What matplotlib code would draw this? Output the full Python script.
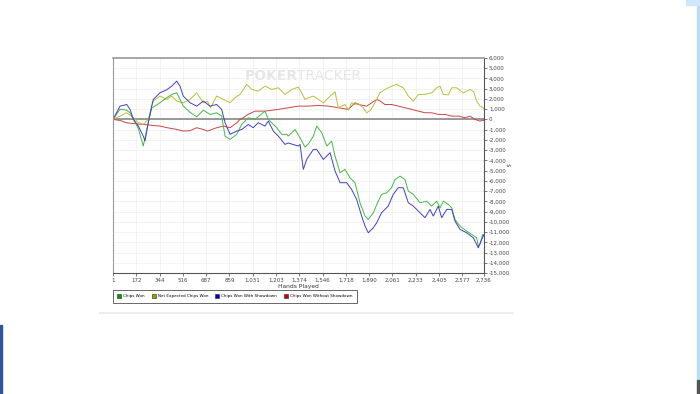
import numpy as np
import matplotlib
matplotlib.use('Agg')
from matplotlib import pyplot as plt
from matplotlib.patches import Patch, Rectangle
from matplotlib.lines import Line2D
from matplotlib.ticker import FuncFormatter

# Chips Won
won_x = [1, 53, 102, 126, 151, 188, 224, 237, 261, 286, 347, 397, 434, 471, 495, 519,
         569, 618, 667, 716, 765, 802, 827, 864, 913, 950, 998, 1048, 1121, 1146, 1208,
         1245, 1282, 1293, 1343, 1380, 1416, 1441, 1478, 1503, 1540, 1577, 1613, 1638,
         1675, 1711, 1748, 1785, 1822, 1859, 1883, 1920, 1957, 1981, 2018, 2055, 2080,
         2117, 2153, 2178, 2215, 2264, 2313, 2350, 2387, 2412, 2436, 2473, 2498, 2522,
         2559, 2608, 2645, 2682, 2694, 2706, 2726, 2736]
won_y = [0, 1000, 900, 650, 100, -900, -2600, -1800, -300, 1100, 1630, 2120, 2440, 2600,
         1950, 1300, 700, 250, 900, 490, 650, 320, -1630, -1950, -1460, -490, 160, 0, 810,
         0, -810, -1460, -1460, -1630, -980, -1790, -2700, -2400, -1630, -650, -1300,
         -2600, -2120, -3580, -5210, -4880, -5700, -6180, -8140, -9440, -9770, -9110,
         -7980, -7320, -7160, -6670, -5860, -5540, -5860, -7000, -7320, -8140, -7980,
         -8470, -7980, -8630, -7980, -8300, -8630, -9770, -10420, -10910, -11230, -11560,
         -12370, -12210, -11230, -11400]

# Net Expected Chips Won
ev_x = [1, 53, 102, 151, 188, 224, 261, 298, 347, 397, 434, 471, 519, 569, 618, 642, 667,
        697, 720, 765, 815, 864, 900, 937, 987, 1024, 1072, 1121, 1171, 1220, 1269, 1318,
        1367, 1392, 1416, 1441, 1478, 1515, 1552, 1601, 1638, 1662, 1711, 1736, 1760,
        1785, 1809, 1846, 1871, 1900, 1932, 1969, 2006, 2055, 2092, 2141, 2178, 2215,
        2252, 2301, 2350, 2387, 2412, 2436, 2473, 2498, 2534, 2584, 2633, 2660, 2682,
        2706, 2731, 2736]
ev_y = [0, 320, 650, 160, -300, -490, 0, 1790, 2280, 1950, 2280, 1790, 1630, 1950, 2600,
        2120, 1630, 1790, 1140, 2280, 1950, 1630, 2120, 2440, 3420, 2930, 2770, 3250, 2930,
        3090, 2440, 2930, 3150, 2600, 1950, 2120, 2280, 1950, 1630, 2280, 2700, 1140, 1460,
        900, 1630, 1460, 1550, 1140, 650, 900, 1630, 2600, 2930, 3250, 3420, 3090, 2280,
        1790, 2440, 2440, 2600, 3090, 3250, 2440, 2400, 3090, 3090, 2600, 2930, 2700, 1790,
        1300, 1140, 1000]

# Chips Won With Showdown
sd_x = [1, 53, 102, 126, 151, 188, 224, 237, 261, 286, 298, 347, 397, 434, 471, 495, 519,
        569, 618, 667, 716, 765, 802, 827, 864, 913, 950, 998, 1035, 1072, 1121, 1146, 1183,
        1220, 1269, 1293, 1367, 1380, 1404, 1429, 1478, 1503, 1552, 1601, 1638, 1675, 1724,
        1760, 1797, 1834, 1859, 1883, 1920, 1945, 1981, 2030, 2067, 2104, 2141, 2178, 2215,
        2264, 2301, 2338, 2362, 2399, 2424, 2461, 2498, 2522, 2559, 2608, 2657, 2694, 2719,
        2736]
sd_y = [0, 1300, 1460, 1000, 0, -650, -1630, -2100, -330, 1300, 1950, 2600, 2900, 3250,
        3740, 3250, 2280, 1630, 1300, 1790, 1300, 1460, 980, -320, -1460, -1140, -980, -490,
        -810, -320, -650, -160, -1140, -1630, -2440, -2300, -2600, -2440, -4880, -3910,
        -2930, -2930, -3910, -3250, -5040, -6180, -6180, -6840, -7810, -9440, -10420,
        -11070, -10580, -10090, -9110, -8470, -7320, -6670, -6670, -8140, -8470, -9110,
        -9600, -8790, -9440, -8470, -9600, -8790, -8790, -9930, -10740, -11070, -11560,
        -12540, -11720, -11230]

# Chips Won Without Showdown
nsd_x = [1, 53, 102, 151, 224, 286, 347, 397, 471, 519, 569, 618, 667, 697, 765, 815, 864,
         913, 937, 960, 998, 1048, 1121, 1171, 1220, 1293, 1367, 1441, 1515, 1589, 1662,
         1736, 1785, 1809, 1871, 1945, 1969, 2006, 2055, 2104, 2153, 2203, 2252, 2301, 2350,
         2399, 2450, 2498, 2550, 2596, 2633, 2670, 2706, 2731, 2736]
nsd_y = [0, -100, -330, -400, -490, -580, -650, -800, -980, -1140, -1100, -810, -980, -1140,
         -810, -650, -810, -330, 0, 160, 500, 810, 810, 900, 980, 1140, 1300, 1300, 1370,
         1300, 1140, 980, 1630, 1460, 1300, 1950, 1800, 1460, 1460, 1300, 1140, 980, 810,
         650, 650, 490, 490, 320, 320, 160, 320, 0, -160, -70, -100]

x_ticks = [1, 172, 344, 516, 687, 859, 1031, 1203, 1374, 1546, 1718, 1890, 2061, 2233,
           2405, 2577, 2736]
y_ticks = list(range(-15000, 6001, 1000))
legend_labels = ['Chips Won', 'Net Expected Chips Won', 'Chips Won With Showdown',
                 'Chips Won Without Showdown']

fig = plt.figure(figsize=(7, 3.94), dpi=100)
ax = fig.add_axes([113 / 700, 1 - 273 / 394, 371 / 700, 215 / 394])

ax.plot(nsd_x, nsd_y, color='#cc4444', lw=0.7)
ax.plot(ev_x, ev_y, color='#bdbd3a', lw=0.7)
ax.plot(won_x, won_y, color='#44b944', lw=0.7)
ax.plot(sd_x, sd_y, color='#4040c8', lw=0.7)
ax.axhline(0, color='#888888', lw=1.2, zorder=1)

ax.set_xlim(1, 2736)
ax.set_ylim(-15000, 6000)
ax.set_xticks(x_ticks)
ax.xaxis.set_major_formatter(FuncFormatter(lambda v, p: f'{int(v):,}'))
ax.set_yticks(y_ticks)
ax.yaxis.set_major_formatter(FuncFormatter(lambda v, p: f'{int(v):,}'))
ax.yaxis.tick_right()
ax.tick_params(axis='both', labelsize=4, colors='#444444', length=2, width=0.5, pad=1.5)
ax.grid(True, color='#eeeeee', lw=0.5)
ax.set_axisbelow(True)
for s in ['left', 'top']:
    ax.spines[s].set_color('#999999')
ax.spines['top'].set_linewidth(1.2)
ax.spines['right'].set_color('#555555')
ax.spines['bottom'].set_color('#555555')
ax.set_xlabel('Hands Played', fontsize=4.3, labelpad=1, color='#333333')

fig.text(507 / 700, 1 - 165 / 394, '$', fontsize=4, rotation=270, color='#555555',
         ha='center', va='center')

# watermark
ax.text(0.355, 0.915, 'POKER', transform=ax.transAxes, fontsize=10, fontweight='bold',
        color='#e6e6e6', ha='left', va='center', zorder=0)
ax.text(0.495, 0.915, 'TRACKER', transform=ax.transAxes, fontsize=10,
        color='#e6e6e6', ha='left', va='center', zorder=0)

handles = [Patch(facecolor=c, edgecolor='#222222', lw=0.4)
           for c in ['#00a000', '#a0a000', '#0000cc', '#cc0000']]
leg = fig.legend(handles, legend_labels, loc='upper left',
                 bbox_to_anchor=(113 / 700, 1 - 290 / 394), ncol=4, fontsize=3.0,
                 frameon=True, fancybox=False, handlelength=1.0, handleheight=1.0,
                 handletextpad=0.5, columnspacing=1.6, borderpad=1.0, borderaxespad=0)
leg.get_frame().set_edgecolor('#222222')
leg.get_frame().set_linewidth(0.6)

fig.add_artist(Line2D([100 / 700, 513 / 700], [1 - 313 / 394, 1 - 313 / 394],
                      color='#eeeeee', lw=1.5))
fig.add_artist(Rectangle((0, 0), 2 / 700, 69 / 394, color='#3050a0'))
fig.add_artist(Rectangle((697 / 700, 14 / 394), 2 / 700, 375 / 394, color='#b8dcf5'))
fig.add_artist(Rectangle((686 / 700, 389 / 394), 14 / 700, 5 / 394, color='#cfe7f8'))
fig.add_artist(Rectangle((697 / 700, 0), 2 / 700, 14 / 394, color='#555555'))

fig.savefig('out.png', dpi=100)
